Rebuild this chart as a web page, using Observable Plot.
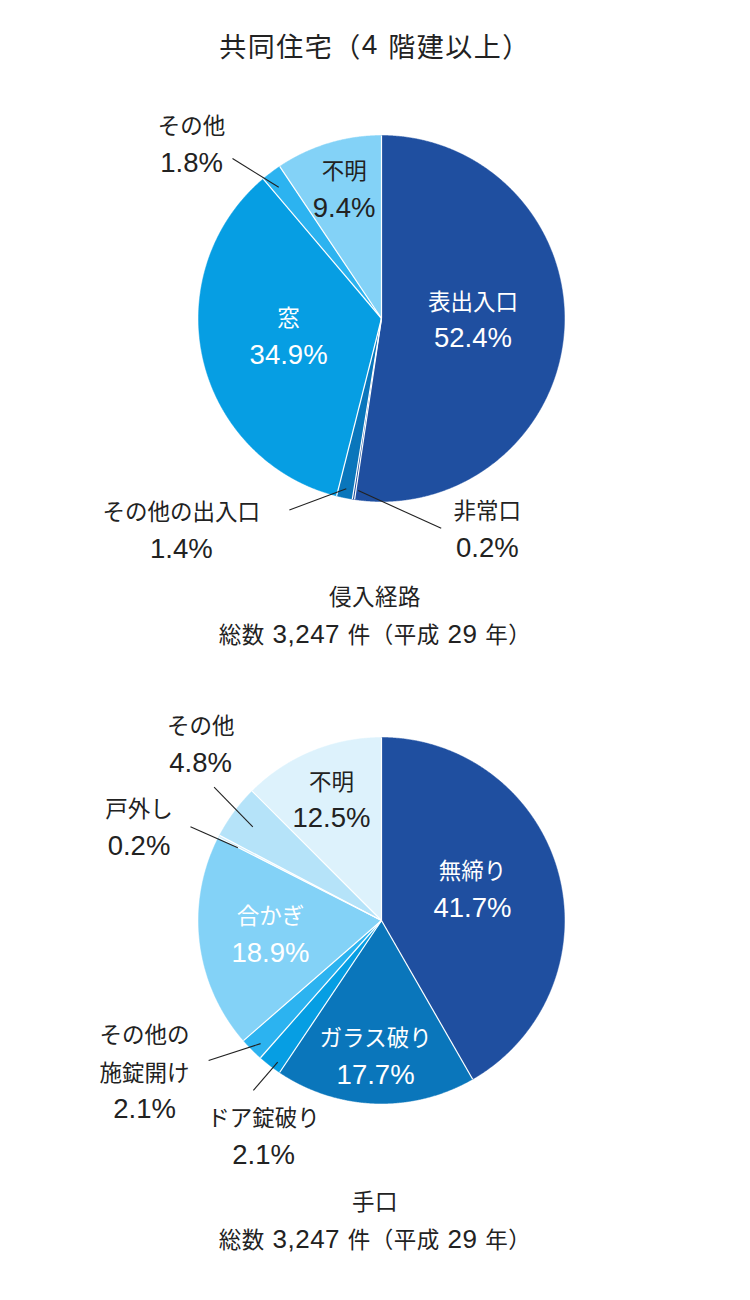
<!DOCTYPE html>
<html><head><meta charset="utf-8">
<script src="https://cdn.jsdelivr.net/npm/d3@7"></script>
<script src="https://cdn.jsdelivr.net/npm/@observablehq/plot@0.6"></script>
<style>
body{margin:0;background:#fff;font-family:"Noto Sans CJK JP","Liberation Sans",sans-serif;color:#222}
#root{width:750px}
.title{height:90px;display:flex;align-items:center;justify-content:center;font-size:27px;letter-spacing:1.5px}
.title .num{font-family:"Liberation Sans",sans-serif;font-size:28px;white-space:pre}
.cap{height:76px;text-align:center;font-size:22.5px;line-height:38px;letter-spacing:0.5px}
.cap .num{font-family:"Liberation Sans",sans-serif;font-size:26px;white-space:pre}
svg{display:block}
</style></head><body><div id="root"></div>
<script>
// ---- data ----
const chartTitle = "共同住宅（4 階建以上）";
const routeCaption = ["侵入経路", "総数 3,247 件（平成 29 年）"];
const routeLabels = ["表出入口", "非常口", "その他の出入口", "窓", "その他", "不明"];
const routeValues = [52.4, 0.2, 1.4, 34.9, 1.8, 9.4];
const methodCaption = ["手口", "総数 3,247 件（平成 29 年）"];
const methodLabels = ["無締り", "ガラス破り", "ドア錠破り", "その他の\n施錠開け", "合かぎ", "戸外し", "その他", "不明"];
const methodValues = [41.7, 17.7, 2.1, 2.1, 18.9, 0.2, 4.8, 12.5];

// ---- styles / layout (separate from data) ----
const routePalette = ["#1f4fa0", "#1d4a98", "#0a76bb", "#069ee3", "#2cb3f0", "#83d2f7"];
const methodPalette = ["#1f4fa0", "#0a76bb", "#069ee3", "#2cb3f0", "#83d2f7", "#c8ebfb", "#b5e3f9", "#ddf2fc"];
// r: radial factor of label block centre, da: angle offset (deg) from slice middle, lead: [r1, da1, r2, da2]
const routeLayout = [
  {r: 0.5, da: -3.5, ink: "white"},
  {r: 1.288, da: -35.5, ink: "#222", lead: [0.949, -1.1, 1.192, -24.7]},
  {r: 1.592, da: 31.7, ink: "#222", lead: [0.95, 0, 1.161, 14]},
  {r: 0.517, da: 2.1, ink: "white"},
  {r: 1.409, da: -10.4, ink: "#222", lead: [0.911, -1, 1.195, -5.9]},
  {r: 0.736, da: 0.8, ink: "#222"}
];
const methodLayout = [
  {r: 0.526, da: -4.2, ink: "white"},
  {r: 0.744, da: 0.5, ink: "white"},
  {r: 1.345, da: -9, ink: "#222", lead: [0.96, -1.4, 1.163, -0.6]},
  {r: 1.537, da: 12.2, ink: "#222", lead: [0.943, -0.7, 1.216, 5.8]},
  {r: 0.611, da: 0.1, ink: "white"},
  {r: 1.42, da: -6.3, ink: "#222", lead: [0.88, -0.5, 1.163, -1.2]},
  {r: 1.38, da: 7.9, ink: "#222", lead: [0.87, -0.3, 1.17, 2.2]},
  {r: 0.715, da: 0, ink: "#222"}
];

const CJK = '"Noto Sans CJK JP", sans-serif';
const LAT = '"Liberation Sans", sans-serif';
const LINE = 37.5;

function piePlot(labels, values, palette, layout, height, cy) {
  const R = 183, cx = 381, W = 750, rad = Math.PI / 180;
  const arcs = d3.pie().sort(null).value(d => d)(values);
  const pts = [];
  arcs.forEach((a, i) => {
    const n = Math.max(2, Math.ceil((a.endAngle - a.startAngle) / (0.25 * rad)));
    pts.push({k: labels[i], x: 0, y: 0});
    for (let j = 0; j <= n; j++) {
      const t = a.startAngle + (a.endAngle - a.startAngle) * j / n;
      pts.push({k: labels[i], x: Math.sin(t), y: Math.cos(t)});
    }
    pts.push({k: labels[i], x: 0, y: 0});
  });
  const seps = arcs.map(a => ({x1: 0, y1: 0, x2: Math.sin(a.startAngle), y2: Math.cos(a.startAngle)}));
  const mid = a => (a.startAngle + a.endAngle) / 2;
  const polar = (r, t) => ({x: r * Math.sin(t), y: r * Math.cos(t)});
  const names = [], nums = [];
  arcs.forEach((a, i) => {
    const L = layout[i];
    const p = polar(L.r, mid(a) + L.da * rad);
    const n = labels[i].split("\n").length;
    names.push({x: p.x, y: p.y + (LINE / 2) / R, text: labels[i], ink: L.ink});
    nums.push({x: p.x, y: p.y - (n * LINE / 2) / R, text: values[i].toFixed(1) + "%", ink: L.ink});
  });
  const leads = arcs.flatMap((a, i) => {
    const L = layout[i];
    if (!L.lead) return [];
    const [r1, d1, r2, d2] = L.lead;
    const p1 = polar(r1, mid(a) + d1 * rad), p2 = polar(r2, mid(a) + d2 * rad);
    return [{x1: p1.x, y1: p1.y, x2: p2.x, y2: p2.y}];
  });
  const textMarks = [];
  for (const ink of ["white", "#222"]) {
    textMarks.push(Plot.text(names.filter(d => d.ink === ink), {x: "x", y: "y", text: "text", fill: ink, fontSize: 22.5, fontFamily: CJK, lineHeight: 38 / 22.5, dy: -3.5}));
    textMarks.push(Plot.text(nums.filter(d => d.ink === ink), {x: "x", y: "y", text: "text", fill: ink, fontSize: 27.5, fontFamily: LAT}));
  }
  return Plot.plot({
    width: W, height, margin: 0,
    x: {domain: [-cx / R, (W - cx) / R], range: [0, W], axis: null},
    y: {domain: [-(height - cy) / R, cy / R], range: [height, 0], axis: null},
    color: {domain: labels, range: palette},
    style: {fontFamily: CJK, color: "#222", background: "white"},
    marks: [
      Plot.line(pts, {x: "x", y: "y", z: "k", fill: "k", stroke: "k", strokeWidth: 0.5, curve: "linear"}),
      Plot.link(seps, {x1: "x1", y1: "y1", x2: "x2", y2: "y2", stroke: "white", strokeWidth: 1.2}),
      Plot.link(leads, {x1: "x1", y1: "y1", x2: "x2", y2: "y2", stroke: "#222", strokeWidth: 1.1}),
      ...textMarks
    ]
  });
}

const wrapNums = s => s.replace(/ ?[0-9][0-9,]* ?/g, m => `<span class="num">${m}</span>`);
const root = document.getElementById("root");
const t = document.createElement("div");
t.className = "title"; t.innerHTML = wrapNums(chartTitle); root.appendChild(t);
root.appendChild(piePlot(routeLabels, routeValues, routePalette, routeLayout, 486, 228));
const c1 = document.createElement("div");
c1.className = "cap"; c1.innerHTML = routeCaption.map(wrapNums).join("<br>"); root.appendChild(c1);
root.appendChild(piePlot(methodLabels, methodValues, methodPalette, methodLayout, 529, 268));
const c2 = document.createElement("div");
c2.className = "cap"; c2.innerHTML = methodCaption.map(wrapNums).join("<br>"); root.appendChild(c2);
</script></body></html>
